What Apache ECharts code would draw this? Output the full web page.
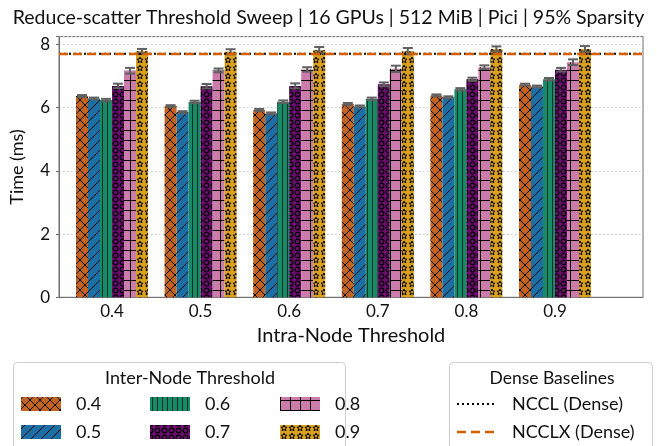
<!DOCTYPE html>
<html><head><meta charset="utf-8">
<script src="https://cdn.jsdelivr.net/npm/echarts@6/dist/echarts.min.js"></script>
<style>html,body{margin:0;padding:0;background:#fff}#c{width:657px;height:446px}</style>
</head><body><div id="c"></div>
<script>
// ---- data ----
const categories = ['0.4','0.5','0.6','0.7','0.8','0.9']; // intra-node threshold
const seriesNames = ['0.4','0.5','0.6','0.7','0.8','0.9'];  // inter-node threshold
const t04 = [6.37, 6.05, 5.93, 6.12, 6.39, 6.73];
const t05 = [6.29, 5.86, 5.82, 6.04, 6.33, 6.67];
const t06 = [6.24, 6.18, 6.19, 6.28, 6.58, 6.90];
const t07 = [6.69, 6.68, 6.69, 6.74, 6.90, 7.20];
const t08 = [7.17, 7.18, 7.21, 7.23, 7.28, 7.44];
const t09 = [7.79, 7.77, 7.82, 7.79, 7.86, 7.86];
const e04 = [0.03, 0.03, 0.03, 0.03, 0.03, 0.03];
const e05 = [0.03, 0.03, 0.03, 0.03, 0.03, 0.03];
const e06 = [0.04, 0.04, 0.04, 0.04, 0.04, 0.04];
const e07 = [0.07, 0.07, 0.08, 0.06, 0.05, 0.06];
const e08 = [0.09, 0.06, 0.07, 0.10, 0.06, 0.09];
const e09 = [0.07, 0.08, 0.10, 0.10, 0.08, 0.09];
const ncclDense = 7.71;
const ncclxDense = 7.70;
const yTicks = [0, 2, 4, 6, 8];

const values = [t04, t05, t06, t07, t08, t09];
const errs = [e04, e05, e06, e07, e08, e09];

// ---- patterns ----
function pat(w, h, bg, draw) {
  const c = document.createElement('canvas');
  c.width = w; c.height = h;
  const g = c.getContext('2d');
  g.fillStyle = bg; g.fillRect(0, 0, w, h);
  g.strokeStyle = '#000'; g.fillStyle = '#000'; g.lineWidth = 1;
  draw(g, w, h);
  return { image: c, repeat: 'repeat' };
}
const colors = ['#c4631f', '#1c6fa4', '#178b67', '#6b0c6e', '#cc7cab', '#d9a11d'];
const patterns = [
  pat(10, 10, colors[0], (g) => { g.beginPath(); g.moveTo(0,0); g.lineTo(10,10); g.moveTo(10,0); g.lineTo(0,10); g.stroke(); }),
  pat(10, 10, colors[1], (g) => { g.beginPath(); g.moveTo(-1,11); g.lineTo(11,-1); g.stroke(); }),
  pat(5, 10, colors[2], (g) => { g.strokeStyle = 'rgba(0,30,20,0.85)'; g.beginPath(); g.moveTo(2.5,0); g.lineTo(2.5,10); g.stroke(); }),
  pat(7, 7, colors[3], (g) => { g.lineWidth = 1.3; g.beginPath(); g.arc(3.5,3.5,2.3,0,Math.PI*2); g.stroke(); }),
  pat(10, 10, colors[4], (g) => { g.beginPath(); g.moveTo(0,0.5); g.lineTo(10,0.5); g.moveTo(0.5,0); g.lineTo(0.5,10); g.stroke(); }),
  pat(8, 8, colors[5], (g) => {
    g.beginPath();
    const cx = 4, cy = 4.2, R = 3.2, r = 1.4;
    for (let i = 0; i < 10; i++) {
      const a = -Math.PI/2 + i*Math.PI/5, rr = i%2 ? r : R;
      const x = cx + rr*Math.cos(a), y = cy + rr*Math.sin(a);
      if (i === 0) g.moveTo(x,y); else g.lineTo(x,y);
    }
    g.closePath(); g.lineWidth = 1; g.stroke();
  })
];

const FONT = 'Lato';
const BW = 12;
const YMAX = 8.25;
const gridTop = 297.3 - YMAX * 31.6;
const gridBottom = 446 - 297.3;

const series = [];
values.forEach((vals, i) => {
  series.push({
    type: 'bar', name: seriesNames[i], xAxisIndex: 1, yAxisIndex: 1,
    data: vals, barWidth: BW, barGap: '0%',
    itemStyle: { color: patterns[i] }, silent: true, z: 2
  });
});
values.forEach((vals, i) => {
  const off = (i - 2.5) * BW;
  series.push({
    type: 'custom', xAxisIndex: 1, yAxisIndex: 1, z: 5, silent: true,
    data: vals.map((v, k) => [k, v, errs[i][k]]),
    renderItem: (params, api) => {
      const k = api.value(0), v = api.value(1), e = api.value(2);
      const top = api.coord([k, v + e]);
      const bot = api.coord([k, v - e]);
      const x = top[0] + off;
      const st = { stroke: '#606060', lineWidth: 2 };
      return { type: 'group', children: [
        { type: 'line', shape: { x1: x, y1: top[1], x2: x, y2: bot[1] }, style: st },
        { type: 'line', shape: { x1: x - 5, y1: top[1], x2: x + 5, y2: top[1] }, style: st },
        { type: 'line', shape: { x1: x - 5, y1: bot[1], x2: x + 5, y2: bot[1] }, style: st }
      ]};
    }
  });
});
series.push({
  type: 'line', xAxisIndex: 0, yAxisIndex: 0, symbol: 'none', silent: true, z: 6,
  data: [[0, ncclDense], [1, ncclDense]],
  lineStyle: { color: '#000', width: 2, type: [2, 3] }
});
series.push({
  type: 'line', xAxisIndex: 0, yAxisIndex: 0, symbol: 'none', silent: true, z: 6,
  data: [[0, ncclxDense], [1, ncclxDense]],
  lineStyle: { color: '#d55e00', width: 2.5, type: [9, 5] }
});

function legendPatch(x, y, i) {
  return { type: 'rect', shape: { x: x, y: y, width: 40, height: 14 }, style: { fill: patterns[i] } };
}
function legendText(x, y, s) {
  return { type: 'text', x: x, y: y, style: { text: s, fontFamily: FONT, fontSize: 18, fill: '#111', textVerticalAlign: 'middle' } };
}
const graphics = [
  { type: 'rect', shape: { x: 13.5, y: 362.5, width: 332, height: 100, r: 4 }, style: { fill: '#fff', stroke: '#d0d0d0', lineWidth: 1 } },
  { type: 'text', x: 190, y: 378, style: { text: 'Inter-Node Threshold', fontFamily: FONT, fontSize: 18, fill: '#111', textAlign: 'center', textVerticalAlign: 'middle' } },
  legendPatch(21, 397, 0), legendText(76, 404, seriesNames[0]),
  legendPatch(21, 425, 1), legendText(76, 432, seriesNames[1]),
  legendPatch(150, 397, 2), legendText(205, 404, seriesNames[2]),
  legendPatch(150, 425, 3), legendText(205, 432, seriesNames[3]),
  legendPatch(280, 397, 4), legendText(335, 404, seriesNames[4]),
  legendPatch(280, 425, 5), legendText(335, 432, seriesNames[5]),
  { type: 'rect', shape: { x: 449.5, y: 362.5, width: 203, height: 100, r: 4 }, style: { fill: '#fff', stroke: '#d0d0d0', lineWidth: 1 } },
  { type: 'text', x: 552, y: 378, style: { text: 'Dense Baselines', fontFamily: FONT, fontSize: 17.5, fill: '#111', textAlign: 'center', textVerticalAlign: 'middle' } },
  { type: 'line', shape: { x1: 457, y1: 404, x2: 497, y2: 404 }, style: { stroke: '#000', lineWidth: 2, lineDash: [2, 3] } },
  legendText(512, 404, 'NCCL (Dense)'),
  { type: 'line', shape: { x1: 457, y1: 432, x2: 497, y2: 432 }, style: { stroke: '#d55e00', lineWidth: 2.5, lineDash: [9, 5] } },
  legendText(512, 432, 'NCCLX (Dense)')
];

const chart = echarts.init(document.getElementById('c'), null, { renderer: 'canvas' });
chart.setOption({
  animation: false,
  backgroundColor: '#fff',
  title: {
    text: 'Reduce-scatter Threshold Sweep | 16 GPUs | 512 MiB | Pici | 95% Sparsity',
    left: 'center', top: 3,
    textStyle: { fontFamily: FONT, fontSize: 19.5, fontWeight: 'normal', color: '#111' }
  },
  grid: [
    { left: 58, right: 14, top: gridTop, bottom: gridBottom, show: true, borderColor: '#707070', borderWidth: 1, backgroundColor: 'transparent' },
    { left: 67.7, right: 57.7, top: gridTop, bottom: gridBottom }
  ],
  xAxis: [
    { type: 'value', gridIndex: 0, min: 0, max: 1, axisLabel: { show: false }, axisTick: { show: false }, splitLine: { show: false },
      axisLine: { show: true, lineStyle: { color: '#707070' } },
      name: 'Intra-Node Threshold', nameLocation: 'middle', nameGap: 28,
      nameTextStyle: { fontFamily: FONT, fontSize: 20, color: '#111' } },
    { type: 'category', gridIndex: 1, data: categories, axisLine: { show: false }, axisTick: { show: false },
      axisLabel: { fontFamily: FONT, fontSize: 17, color: '#111', margin: 6 } }
  ],
  yAxis: [
    { type: 'value', gridIndex: 0, min: 0, max: YMAX, interval: 2,
      axisLine: { show: true, lineStyle: { color: '#707070' } },
      axisTick: { show: true, length: 3, lineStyle: { color: '#707070' } },
      axisLabel: { fontFamily: FONT, fontSize: 17, color: '#111', margin: 9,
        formatter: (v) => yTicks.includes(v) ? String(v) : '' },
      splitLine: { show: true, lineStyle: { color: '#c8c8c8', type: [1.5, 2.5], width: 1 } },
      name: 'Time (ms)', nameLocation: 'middle', nameGap: 33, nameRotate: 90,
      nameTextStyle: { fontFamily: FONT, fontSize: 18, color: '#111' } },
    { type: 'value', gridIndex: 1, min: 0, max: YMAX, interval: 2, show: false, splitLine: { show: false } }
  ],
  series: series,
  graphic: graphics
});
</script>
</body></html>
